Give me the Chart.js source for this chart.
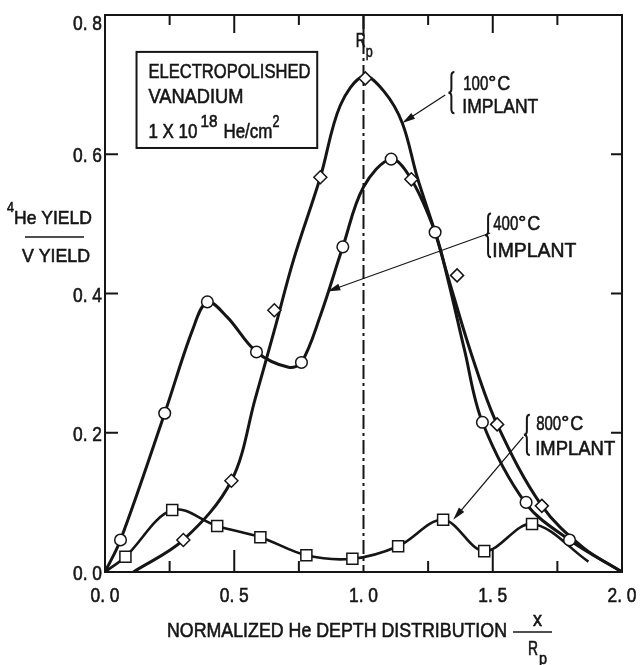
<!DOCTYPE html>
<html lang="en">
<head>
<meta charset="utf-8">
<title>Normalized He depth distribution</title>
<script src="https://cdn.jsdelivr.net/npm/chart.js@4.4.0/dist/chart.umd.min.js"></script>
<style>
  html, body { margin: 0; padding: 0; background: #fff; }
</style>
</head>
<body>
<canvas id="myChart" width="641" height="665"></canvas>
<script>
  // x = depth / Rp, y = 4He yield / V yield

  // measured points, 100 C implant (diamonds)
  const x100 = [0.303, 0.489, 0.655, 0.833, 1.007, 1.185, 1.362, 1.517, 1.69];
  const y100 = [0.046, 0.131, 0.376, 0.567, 0.709, 0.564, 0.426, 0.212, 0.095];
  // measured points, 400 C implant (circles)
  const x400 = [0.06, 0.231, 0.396, 0.586, 0.76, 0.92, 1.107, 1.277, 1.46, 1.629, 1.797];
  const y400 = [0.046, 0.228, 0.388, 0.316, 0.301, 0.467, 0.593, 0.488, 0.215, 0.100, 0.046];
  // measured points, 800 C implant (squares)
  const x800 = [0.079, 0.26, 0.434, 0.601, 0.779, 0.957, 1.134, 1.308, 1.467, 1.652];
  const y800 = [0.022, 0.089, 0.066, 0.050, 0.024, 0.019, 0.037, 0.075, 0.030, 0.069];

  // hand drawn curves through the points
  const c100x = [0.11, 0.303, 0.489, 0.582, 0.655, 0.729, 0.833, 0.91, 1.0, 1.08, 1.15, 1.208, 1.277, 1.33, 1.42, 1.517, 1.69, 1.85, 2.0];
  const c100y = [0, 0.046, 0.131, 0.25, 0.347, 0.448, 0.567, 0.67, 0.712, 0.69, 0.645, 0.567, 0.488, 0.42, 0.31, 0.212, 0.095, 0.035, 0];
  const c400x = [0, 0.06, 0.231, 0.338, 0.396, 0.473, 0.586, 0.71, 0.76, 0.833, 0.92, 1.0, 1.107, 1.185, 1.277, 1.324, 1.39, 1.46, 1.627, 1.797, 2.0];
  const c400y = [0, 0.046, 0.228, 0.347, 0.388, 0.366, 0.316, 0.294, 0.301, 0.368, 0.467, 0.553, 0.593, 0.564, 0.488, 0.424, 0.32, 0.215, 0.099, 0.046, 0];
  const c800x = [0, 0.079, 0.26, 0.434, 0.601, 0.779, 0.957, 1.134, 1.308, 1.467, 1.652, 1.87];
  const c800y = [0, 0.022, 0.089, 0.066, 0.050, 0.024, 0.019, 0.037, 0.075, 0.030, 0.069, 0.015];

  const xTicks = [0, 0.5, 1.0, 1.5, 2.0];
  const yTicks = [0, 0.2, 0.4, 0.6, 0.8];
  const xMinor = [0.25, 0.5, 0.75, 1.0, 1.25, 1.5, 1.75];
  const yMinor = [0.2, 0.4, 0.6];

  const FONT = "'Liberation Sans', Arial, sans-serif";
  const INK = "#151515";

  function toPts(xs, ys) {
    return xs.map(function (x, i) { return { x: x, y: ys[i] }; });
  }

  function curve(xs, ys, w) {
    return {
      data: toPts(xs, ys),
      showLine: true,
      pointRadius: 0,
      borderColor: INK,
      borderWidth: w,
      tension: 0.35,
      fill: false,
      order: 2,
    };
  }

  function markers(xs, ys, style, r) {
    return {
      data: toPts(xs, ys),
      showLine: false,
      pointStyle: style,
      pointRadius: r,
      pointBackgroundColor: "#fff",
      pointBorderColor: INK,
      pointBorderWidth: 1.5,
      order: 0,
    };
  }

  // draws a string squeezed to a given width (lettering is narrow)
  function text(ctx, str, x, y, size, width, align) {
    ctx.font = size + "px " + FONT;
    ctx.textAlign = "left";
    ctx.textBaseline = "alphabetic";
    const natural = ctx.measureText(str).width;
    const w = width || natural * 0.8;
    let x0 = x;
    if (align === "center") x0 = x - w / 2;
    if (align === "right") x0 = x - w;
    ctx.save();
    ctx.translate(x0, y);
    ctx.scale(w / natural, 1);
    ctx.lineWidth = 0.6;
    ctx.fillText(str, 0, 0);
    ctx.strokeText(str, 0, 0);
    ctx.restore();
  }

  function tickLabel(ctx, v, x, y, align) {
    text(ctx, v.toFixed(1).replace(".", ". "), x, y, 21, 29, align);
  }

  function brace(ctx, x, y0, y1) {
    const ym = (y0 + y1) / 2;
    ctx.beginPath();
    ctx.moveTo(x + 3, y0);
    ctx.quadraticCurveTo(x, y0, x, y0 + 4);
    ctx.lineTo(x, ym - 4);
    ctx.quadraticCurveTo(x, ym, x - 3, ym);
    ctx.quadraticCurveTo(x, ym, x, ym + 4);
    ctx.lineTo(x, y1 - 4);
    ctx.quadraticCurveTo(x, y1, x + 3, y1);
    ctx.stroke();
  }

  function arrow(ctx, x0, y0, x1, y1, w) {
    const a = Math.atan2(y1 - y0, x1 - x0);
    const len = 13, half = 3.5;
    ctx.lineWidth = w;
    ctx.beginPath();
    ctx.moveTo(x0, y0);
    ctx.lineTo(x1 - Math.cos(a) * len * 0.8, y1 - Math.sin(a) * len * 0.8);
    ctx.stroke();
    ctx.beginPath();
    ctx.moveTo(x1, y1);
    ctx.lineTo(x1 - Math.cos(a) * len - Math.sin(a) * half, y1 - Math.sin(a) * len + Math.cos(a) * half);
    ctx.lineTo(x1 - Math.cos(a) * len + Math.sin(a) * half, y1 - Math.sin(a) * len - Math.cos(a) * half);
    ctx.closePath();
    ctx.fill();
  }

  function tempLabel(ctx, X, Y, x, y1, y2, deg, w) {
    const px = X(x);
    text(ctx, deg, px, Y(y1), 21, 25);
    text(ctx, "\u00b0", px + 25, Y(y1) - 2, 17, 8);
    text(ctx, "C", px + 34, Y(y1), 21, 13);
    text(ctx, "IMPLANT", px - 1, Y(y2), 21, w);
  }

  const decor = {
    id: "decor",
    beforeDatasetsDraw: function (chart) {
      // dash-dot line at Rp
      const ctx = chart.ctx, a = chart.chartArea;
      const px = chart.scales.x.getPixelForValue(1.0);
      ctx.save();
      ctx.strokeStyle = INK;
      ctx.lineWidth = 2;
      ctx.setLineDash([14, 4, 3, 4]);
      ctx.beginPath();
      ctx.moveTo(px, a.top);
      ctx.lineTo(px, a.bottom);
      ctx.stroke();
      ctx.restore();
    },
    afterDraw: function (chart) {
      const ctx = chart.ctx, a = chart.chartArea;
      const sx = chart.scales.x, sy = chart.scales.y;
      const X = function (v) { return sx.getPixelForValue(v); };
      const Y = function (v) { return sy.getPixelForValue(v); };
      ctx.save();
      ctx.strokeStyle = INK;
      ctx.fillStyle = INK;

      // frame
      ctx.lineWidth = 2;
      ctx.strokeRect(a.left, a.top, a.right - a.left, a.bottom - a.top);

      // inward ticks
      ctx.beginPath();
      xMinor.forEach(function (v) {
        const major = Math.abs(v % 0.5) < 1e-9;
        const px = X(v);
        if (v !== 1.0) {
          ctx.moveTo(px, a.bottom);
          ctx.lineTo(px, a.bottom - (major ? 22 : 11));
        }
        ctx.moveTo(px, a.top);
        ctx.lineTo(px, a.top + (major ? 18 : 10));
      });
      yMinor.forEach(function (v) {
        const py = Y(v);
        ctx.moveTo(a.left, py);
        ctx.lineTo(a.left + 13, py);
        ctx.moveTo(a.right, py);
        ctx.lineTo(a.right - 11, py);
      });
      ctx.stroke();

      // tick labels
      xTicks.forEach(function (v) {
        tickLabel(ctx, v, X(v), a.bottom + 30, "center");
      });
      yTicks.forEach(function (v) {
        const py = Y(v);
        tickLabel(ctx, v, a.left - 3, v === 0.8 ? py + 15 : py + 8, "right");
      });

      // sample box
      ctx.lineWidth = 2;
      ctx.strokeRect(X(0.122), Y(0.747), X(0.821) - X(0.122), Y(0.609) - Y(0.747));
      const bx = X(0.168);
      text(ctx, "ELECTROPOLISHED", bx, Y(0.709), 21, 162);
      text(ctx, "VANADIUM", bx, Y(0.673), 21, 95);
      text(ctx, "1 X 10", bx, Y(0.623), 21, 49);
      text(ctx, "18", bx + 52, Y(0.623) - 11, 16, 17);
      text(ctx, "He/cm", bx + 75, Y(0.623), 21, 49);
      text(ctx, "2", bx + 124, Y(0.623) - 11, 16, 7);

      // Rp label
      text(ctx, "R", X(0.97), Y(0.754), 20, 10);
      text(ctx, "p", X(0.97) + 10, Y(0.754) + 10, 17, 7);

      // implant labels
      ctx.lineWidth = 2;
      brace(ctx, X(1.34), Y(0.718), Y(0.659));
      tempLabel(ctx, X, Y, 1.386, 0.692, 0.659, "100", 76);
      ctx.lineWidth = 2;
      brace(ctx, X(1.482), Y(0.515), Y(0.452));
      tempLabel(ctx, X, Y, 1.502, 0.491, 0.452, "400", 84);
      ctx.lineWidth = 2;
      brace(ctx, X(1.632), Y(0.226), Y(0.168));
      tempLabel(ctx, X, Y, 1.668, 0.204, 0.168, "800", 80);

      arrow(ctx, X(1.316), Y(0.685), X(1.15), Y(0.645), 1.3);
      arrow(ctx, X(1.49), Y(0.487), X(0.86), Y(0.403), 1.1);
      arrow(ctx, X(1.618), Y(0.194), X(1.347), Y(0.075), 1.3);

      // y title as a fraction
      text(ctx, "4", 7, 212, 15, 7);
      text(ctx, "He YIELD", 14, 224, 19, 78);
      ctx.lineWidth = 1.5;
      ctx.beginPath();
      ctx.moveTo(25, 237);
      ctx.lineTo(84, 237);
      ctx.stroke();
      text(ctx, "V YIELD", 22, 262, 19, 68);

      // x title
      text(ctx, "NORMALIZED He DEPTH DISTRIBUTION", 167, 637, 21, 340);
      ctx.lineWidth = 1.5;
      ctx.beginPath();
      ctx.moveTo(513, 632);
      ctx.lineTo(552, 632);
      ctx.stroke();
      text(ctx, "x", 533, 626, 20, 9);
      text(ctx, "R", 528, 655, 20, 10);
      text(ctx, "p", 539, 664, 17, 8);

      ctx.restore();
    },
  };

  const ctx = document.getElementById("myChart").getContext("2d");
  const chart = new Chart(ctx, {
    type: "scatter",
    data: {
      datasets: [
        curve(c100x, c100y, 3),
        curve(c400x, c400y, 3),
        curve(c800x, c800y, 2.6),
        markers(x100, y100, "rectRot", 6.5),
        markers(x400, y400, "circle", 5.8),
        markers(x800, y800, "rect", 7.8),
      ],
    },
    options: {
      responsive: false,
      animation: false,
      devicePixelRatio: 1,
      layout: { padding: { top: 15, right: 19, left: 0, bottom: 0 } },
      plugins: { legend: { display: false }, tooltip: { enabled: false } },
      scales: {
        x: {
          type: "linear",
          min: 0,
          max: 2,
          afterFit: function (scale) { scale.height = 93; },
          grid: { display: false, drawTicks: false },
          border: { display: false },
          ticks: { display: false },
        },
        y: {
          type: "linear",
          min: 0,
          max: 0.8,
          afterFit: function (scale) { scale.width = 105; },
          grid: { display: false, drawTicks: false },
          border: { display: false },
          ticks: { display: false },
        },
      },
    },
    plugins: [decor],
  });
</script>
</body>
</html>
